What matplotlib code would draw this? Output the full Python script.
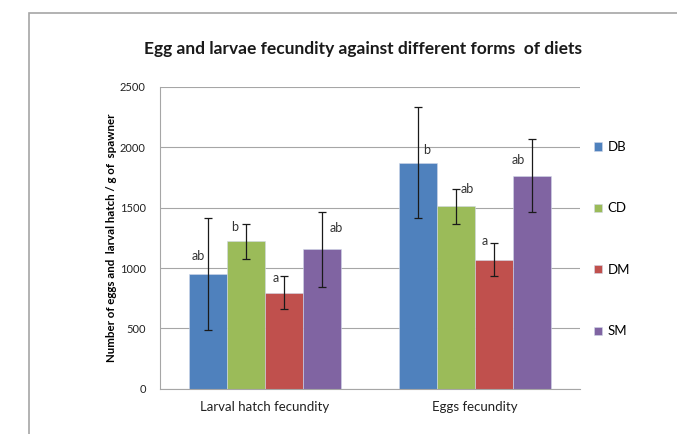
import numpy as np
import matplotlib.pyplot as plt
from matplotlib.patches import Rectangle

categories = ['Larval hatch fecundity', 'Eggs fecundity']
diets = ['DB', 'CD', 'DM', 'SM']
colors = ['#4F81BD', '#9BBB59', '#C0504D', '#8064A2']

means = {
    'DB': [950, 1870],
    'CD': [1220, 1510],
    'DM': [795, 1070],
    'SM': [1155, 1765],
}
errors = {
    'DB': [460, 460],
    'CD': [148, 148],
    'DM': [135, 135],
    'SM': [308, 305],
}
letters = {
    'DB': ['ab', 'b'],
    'CD': ['b', 'ab'],
    'DM': ['a', 'a'],
    'SM': ['ab', 'ab'],
}
# label offsets (points) relative to top-centre of each bar
label_off = {
    'DB': [(-7, 9), (6, 5)],
    'CD': [(-8, 6), (8, 8)],
    'DM': [(-6, 6), (-7, 9)],
    'SM': [(10, 11), (-10, 7)],
}

plt.rcParams['font.family'] = ['Lato', 'DejaVu Sans']

fig = plt.figure(figsize=(6.77, 4.34), dpi=100)
ax = fig.add_axes([0.236, 0.104, 0.621, 0.696])

# outer chart frame
fig.patches.append(Rectangle((29 / 677, -0.1), 1.2, 1 - 13 / 434 + 0.1,
                             transform=fig.transFigure, fill=False,
                             edgecolor='#A6A6A6', linewidth=1.2))

x = np.arange(len(categories))
w = 0.181
for i, d in enumerate(diets):
    xs = x + (i - 1.5) * w
    ax.bar(xs, means[d], w, color=colors[i], edgecolor='#D0D8E8', linewidth=0.4,
           label=d, zorder=2)
    ax.errorbar(xs, means[d], yerr=errors[d], fmt='none', ecolor='#1a1a1a',
                elinewidth=0.9, capsize=3, capthick=0.9, zorder=3)
    for j in range(len(categories)):
        dx, dy = label_off[d][j]
        ax.annotate(letters[d][j], (xs[j], means[d][j]), xytext=(dx, dy),
                    textcoords='offset points', ha='center', va='bottom',
                    fontsize=9, color='#333333', zorder=4)

ax.set_xlim(-0.5, 1.5)
ax.set_ylim(0, 2500)
ax.set_yticks(range(0, 2501, 500))
ax.set_xticks(x)
ax.set_xticklabels(categories, fontsize=9.5, color='#222222')
ax.tick_params(axis='both', length=0)
ax.tick_params(axis='y', labelsize=8, pad=10, colors='#222222')
ax.tick_params(axis='x', pad=9)
ax.grid(axis='y', color='#A6A6A6', linewidth=0.8, zorder=0)
for s in ['top', 'right']:
    ax.spines[s].set_visible(False)
ax.spines['left'].set_color('#A6A6A6')
ax.spines['bottom'].set_color('#A6A6A6')

ax.set_ylabel('Number of eggs and  larval hatch / g of  spawner', fontsize=8.3,
              fontweight='bold', labelpad=2)
fig.text(0.536, 0.888, 'Egg and larvae fecundity against different forms  of diets',
         ha='center', va='center', fontsize=12.5, fontweight='bold', color='#1a1a1a')

leg = ax.legend(loc='upper left', bbox_to_anchor=(1.005, 0.86), frameon=False,
                fontsize=9.5, handlelength=0.6, handleheight=0.6, handletextpad=0.4,
                labelspacing=3.75)

fig.savefig('out.png', dpi=100)
